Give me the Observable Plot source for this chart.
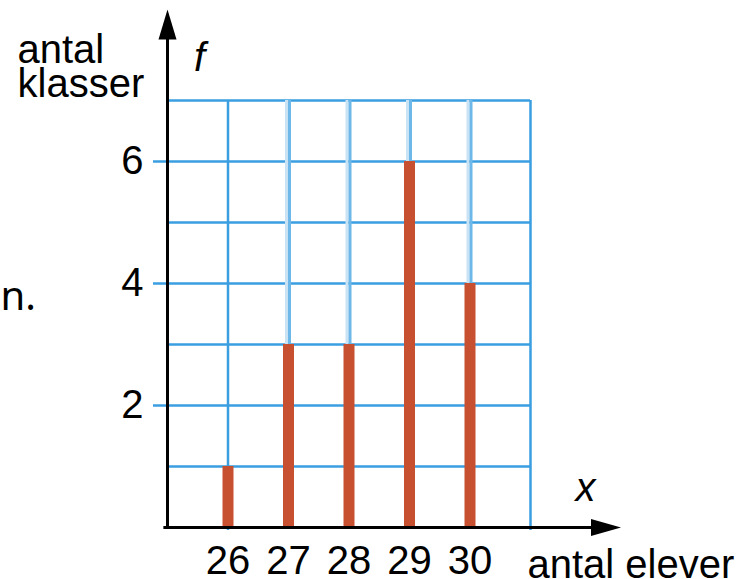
<!DOCTYPE html>
<html>
<head>
<meta charset="utf-8">
<script src="https://cdn.jsdelivr.net/npm/d3@7"></script>
<script src="https://cdn.jsdelivr.net/npm/@observablehq/plot@0.6"></script>
<style>
  html, body { margin: 0; padding: 0; background: white; }
  #chart svg { display: block; }
</style>
</head>
<body>
<div id="chart"></div>
<script>
// Data
const students = [26, 27, 28, 29, 30];   // x: antal elever
const classes  = [1, 3, 3, 6, 4];        // f: antal klasser
const xTicks = [26, 27, 28, 29, 30];
const yTicks = [2, 4, 6];
const gridXDark = [26, 31];
const gridXLight = [27, 28, 29, 30];
const gridY = [1, 2, 3, 4, 5, 6, 7];
const xDomain = [25, 31];
const yDomain = [0, 7];

const bars = students.map((x, i) => ({x, f: classes[i]}));

const blue = "#3a9ee0";
const blueMid = "#6db8e8";
const bluePale = "#c9e3f5";
const orange = "#c65030";
const font = "'Liberation Sans', Arial, sans-serif";

const chart = Plot.plot({
  width: 742,
  height: 579,
  marginLeft: 167,
  marginRight: 212,
  marginTop: 100,
  marginBottom: 52,
  x: {domain: xDomain},
  y: {domain: yDomain},
  style: {fontFamily: font, fontSize: "40px", background: "white", color: "black", overflow: "visible"},
  marks: [
    // grid
    Plot.ruleY(gridY, {x1: xDomain[0], x2: xDomain[1], stroke: blue, strokeWidth: 2.5}),
    Plot.ruleX(gridXDark, {y1: -0.05, y2: yDomain[1] , stroke: blue, strokeWidth: 2.5}),
    Plot.ruleX(gridXLight, {y1: 0, y2: yDomain[1], stroke: bluePale, strokeWidth: 3, dx: -2}),
    Plot.ruleX(gridXLight, {y1: 0, y2: yDomain[1], stroke: blueMid, strokeWidth: 3, dx: 1}),
    // bars
    Plot.ruleX(bars, {x: "x", y1: 0, y2: "f", stroke: orange, strokeWidth: 11}),
    // axes ticks and labels
    Plot.axisY(yTicks, {tickSize: 14, tickPadding: 10, tickFormat: d3.format("d"), stroke: blue, strokeWidth: 2.5, fill: "black", fontSize: 40, label: null}),
    Plot.axisX(xTicks, {tickSize: 0, tickPadding: 18, tickFormat: d3.format("d"), fill: "black", fontSize: 40, label: null}),
    // axis lines with arrows
    Plot.ruleX([xDomain[0]], {y1: -0.03, y2: 8.1, stroke: "black", strokeWidth: 3}),
    Plot.ruleY([0], {x1: 24.94, x2: 32.1, stroke: "black", strokeWidth: 3}),
    Plot.vector([0], {x: xDomain[0], y: 8.0, length: 30, r: 9, shape: "spike", anchor: "start", fill: "black", stroke: "none"}),
    Plot.vector([0], {x: 32.0, y: 0, length: 30, r: 8.5, rotate: 90, shape: "spike", anchor: "start", fill: "black", stroke: "none"}),
    // annotations
    Plot.text(["antal\nklasser"], {x: xDomain[0], y: 7.05, dx: -150, textAnchor: "start", lineAnchor: "bottom", lineHeight: 0.85, fontSize: 40, fill: "black"}),
    Plot.text(["f"], {x: 25.53, y: 7.49, lineAnchor: "bottom", fontSize: 40, fontStyle: "italic", fill: "black"}),
    Plot.text(["x"], {x: 31.91, y: 0.44, lineAnchor: "bottom", fontSize: 40, fontStyle: "italic", fill: "black"}),
    Plot.text(["antal elever"], {x: 30.95, y: -0.82, textAnchor: "start", lineAnchor: "bottom", fontSize: 40, fill: "black"}),
    Plot.text(["n."], {x: 22.24, y: 3.56, textAnchor: "start", lineAnchor: "bottom", fontSize: 40, fontFamily: "'Noto Sans', sans-serif", fill: "black"})
  ]
});

document.getElementById("chart").append(chart);
</script>
</body>
</html>
